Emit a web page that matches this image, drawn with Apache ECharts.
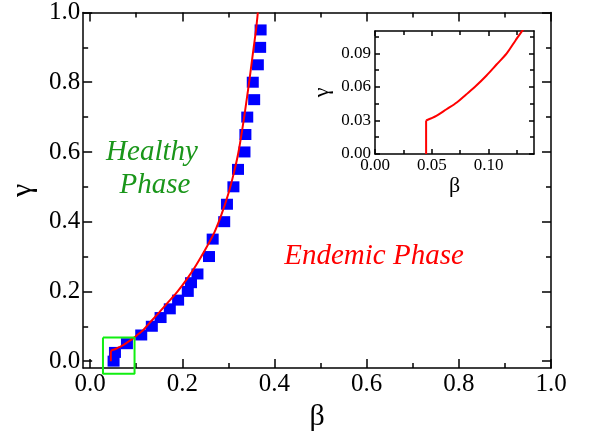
<!DOCTYPE html>
<html>
<head>
<meta charset="utf-8">
<script src="https://cdn.jsdelivr.net/npm/echarts@6/dist/echarts.min.js"></script>
<style>
  html, body { margin: 0; padding: 0; background: #fff; }
  #chart { width: 591px; height: 437px; }
</style>
</head>
<body>
<div id="chart"></div>
<script>
// blue squares: simulated phase boundary
var squareBeta = [0.051, 0.054, 0.080, 0.111, 0.134, 0.153, 0.173, 0.191, 0.212, 0.219, 0.233,
                  0.258, 0.266, 0.291, 0.297, 0.311, 0.321, 0.335, 0.337, 0.341, 0.356, 0.353,
                  0.364, 0.369, 0.370];
var squareGamma = [0.0, 0.025, 0.05, 0.075, 0.10, 0.125, 0.15, 0.175, 0.20, 0.225, 0.25,
                   0.30, 0.35, 0.40, 0.45, 0.50, 0.55, 0.60, 0.65, 0.70, 0.75, 0.80,
                   0.85, 0.90, 0.95];
// red line: mean-field boundary (first two points = vertical jump at beta_c)
var curveBeta = [0.045, 0.045, 0.054, 0.063, 0.072, 0.080, 0.089, 0.098, 0.107, 0.116, 0.124,
                 0.133, 0.150, 0.170, 0.190, 0.210, 0.230, 0.250, 0.270, 0.285, 0.300, 0.312,
                 0.322, 0.332, 0.343, 0.353, 0.360, 0.364];
var curveGamma = [0.0, 0.030, 0.034, 0.040, 0.046, 0.053, 0.061, 0.070, 0.080, 0.090, 0.102,
                  0.115, 0.140, 0.170, 0.200, 0.235, 0.275, 0.320, 0.370, 0.420, 0.480, 0.540,
                  0.600, 0.680, 0.780, 0.880, 0.950, 1.0];
// green zoom box
var boxBeta = [0.028, 0.0965, 0.0965, 0.028, 0.028];
var boxGamma = [0.0675, 0.0675, -0.036, -0.036, 0.0675];

// tick values
var mainMajor = [0, 0.2, 0.4, 0.6, 0.8, 1.0];
var mainMinor = [0.1, 0.3, 0.5, 0.7, 0.9];
var insetXMajor = [0, 0.05, 0.1];
var insetXMinor = [0.025, 0.075, 0.125];
var insetYMajor = [0, 0.03, 0.06, 0.09];
var insetYMinor = [0.015, 0.045, 0.075, 0.105];

function pairs(a, b) {
  return a.map(function (v, i) { return [v, b[i]]; });
}

var font = '"Liberation Serif", serif';
var black = { color: '#000', width: 1.5 };

// one axis = a line with inside ticks; labels added separately
function axis(grid, pos, min, max, ticks, len, showLine) {
  return {
    type: 'value', gridIndex: grid, position: pos, min: min, max: max,
    axisLine: { show: showLine, onZero: false, lineStyle: black },
    axisTick: { show: true, inside: true, length: len, customValues: ticks, lineStyle: black },
    axisLabel: { show: false },
    splitLine: { show: false }
  };
}

function withLabels(ax, values, digits, size, margin, name, nameSize, nameGap) {
  ax.axisLabel = {
    show: true, customValues: values, margin: margin,
    fontFamily: font, fontSize: size, color: '#000',
    formatter: function (v) { return v.toFixed(digits); }
  };
  ax.name = name;
  ax.nameLocation = 'middle';
  ax.nameGap = nameGap;
  ax.nameTextStyle = { fontFamily: font, fontSize: nameSize, color: '#000' };
  return ax;
}

var xMin = -0.015, yMin = -0.02;

var xAxes = [
  withLabels(axis(0, 'bottom', xMin, 1, mainMajor, 9, true), mainMajor, 1, 25, 4, 'β', 30, 30),
  axis(0, 'bottom', xMin, 1, mainMinor, 5, false),
  axis(0, 'top', xMin, 1, mainMajor, 9, true),
  axis(0, 'top', xMin, 1, mainMinor, 5, false),
  withLabels(axis(1, 'bottom', 0, 0.14, insetXMajor, 5, true), insetXMajor, 2, 17, 3, 'β', 22, 20),
  axis(1, 'bottom', 0, 0.14, insetXMinor, 4, false),
  axis(1, 'top', 0, 0.14, insetXMajor, 5, true),
  axis(1, 'top', 0, 0.14, insetXMinor, 4, false)
];
var yAxes = [
  withLabels(axis(0, 'left', yMin, 1, mainMajor, 9, true), mainMajor, 1, 25, 3, 'γ', 30, 44),
  axis(0, 'left', yMin, 1, mainMinor, 5, false),
  axis(0, 'right', yMin, 1, mainMajor, 9, true),
  axis(0, 'right', yMin, 1, mainMinor, 5, false),
  withLabels(axis(1, 'left', 0, 0.11, insetYMajor, 5, true), insetYMajor, 2, 17, 4, 'γ', 22, 42),
  axis(1, 'left', 0, 0.11, insetYMinor, 4, false),
  axis(1, 'right', 0, 0.11, insetYMajor, 5, true),
  axis(1, 'right', 0, 0.11, insetYMinor, 4, false)
];

var chart = echarts.init(document.getElementById('chart'));

var option = {
  animation: false,
  textStyle: { fontFamily: font },
  grid: [
    { left: 81, top: 10, right: 40, bottom: 65 },
    { left: 375, top: 31, width: 159, height: 123 }
  ],
  xAxis: xAxes,
  yAxis: yAxes,
  graphic: [
    { type: 'text', x: 152, y: 152, style: { text: 'Healthy', fill: '#1a961a',
      font: 'italic 29px "Liberation Serif"', align: 'center', verticalAlign: 'middle' } },
    { type: 'text', x: 155, y: 185, style: { text: 'Phase', fill: '#1a961a',
      font: 'italic 29px "Liberation Serif"', align: 'center', verticalAlign: 'middle' } },
    { type: 'text', x: 374, y: 256, style: { text: 'Endemic Phase', fill: '#ff0000',
      font: 'italic 29px "Liberation Serif"', align: 'center', verticalAlign: 'middle' } }
  ],
  series: [
    {
      type: 'scatter', xAxisIndex: 0, yAxisIndex: 0,
      symbol: 'rect', symbolSize: [12, 11],
      itemStyle: { color: '#0000ff', opacity: 1 },
      data: pairs(squareBeta, squareGamma)
    },
    {
      type: 'line', xAxisIndex: 0, yAxisIndex: 0,
      showSymbol: false,
      lineStyle: { color: '#ff0000', width: 2 },
      data: pairs(curveBeta.slice(0, 2), curveGamma.slice(0, 2))
    },
    {
      type: 'line', xAxisIndex: 0, yAxisIndex: 0,
      showSymbol: false, smooth: 0.3,
      lineStyle: { color: '#ff0000', width: 2 },
      data: pairs(curveBeta.slice(1), curveGamma.slice(1))
    },
    {
      type: 'line', xAxisIndex: 0, yAxisIndex: 0, clip: false,
      showSymbol: false,
      lineStyle: { color: '#11ee11', width: 2 },
      data: pairs(boxBeta, boxGamma)
    },
    {
      type: 'line', xAxisIndex: 4, yAxisIndex: 4,
      showSymbol: false,
      lineStyle: { color: '#ff0000', width: 2 },
      data: pairs(curveBeta.slice(0, 2), curveGamma.slice(0, 2))
    },
    {
      type: 'line', xAxisIndex: 4, yAxisIndex: 4,
      showSymbol: false, smooth: 0.3,
      lineStyle: { color: '#ff0000', width: 2 },
      data: pairs(curveBeta.slice(1), curveGamma.slice(1))
    }
  ]
};

chart.setOption(option);
</script>
</body>
</html>
